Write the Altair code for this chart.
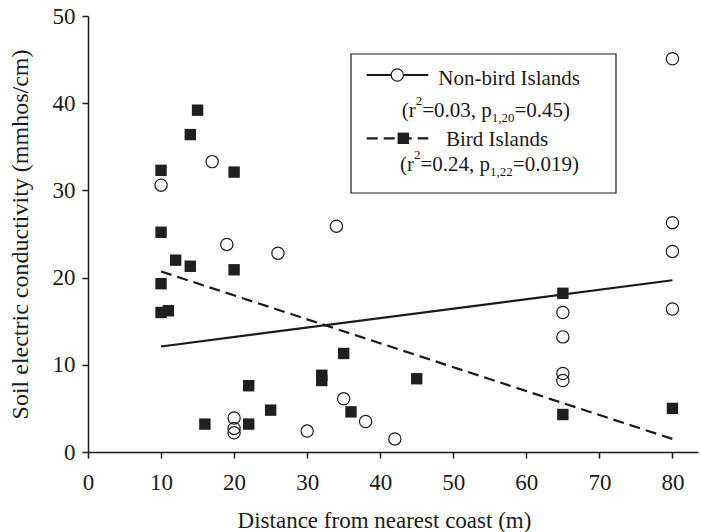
import altair as alt
import pandas as pd

# ---- data ----
nonbird_x = [10, 17, 19, 20, 20, 20, 26, 30, 34, 35, 38, 42, 65, 65, 65, 65, 80, 80, 80, 80]
nonbird_y = [30.6, 33.3, 23.8, 3.9, 2.7, 2.2, 22.8, 2.4, 25.9, 6.1, 3.5, 1.5, 16.0, 13.2, 9.0, 8.2, 45.1, 26.3, 23.0, 16.4]

bird_x = [10, 10, 10, 10, 11, 12, 14, 14, 15, 16, 20, 20, 22, 22, 25, 32, 32, 35, 36, 45, 65, 65, 80]
bird_y = [32.3, 25.2, 19.3, 16.0, 16.2, 22.0, 36.4, 21.3, 39.2, 3.2, 32.1, 20.9, 7.6, 3.2, 4.8, 8.8, 8.2, 11.3, 4.6, 8.4, 18.2, 4.3, 5.0]

fit_x = [10, 80]
nonbird_fit_y = [12.1, 19.7]
bird_fit_y = [20.7, 1.5]

x_ticks = [0, 10, 20, 30, 40, 50, 60, 70, 80]
y_ticks = [0, 10, 20, 30, 40, 50]

FONT = "Liberation Serif"
TXT = "#1a1a1a"
W, H = 610, 436

xs = alt.Scale(domain=[0, 83.5], nice=False, zero=False)
ys = alt.Scale(domain=[0, 50], nice=False)

x_axis = alt.Axis(values=x_ticks, title="Distance from nearest coast (m)", grid=False,
                  domainColor=TXT, domainWidth=1.5, tickColor=TXT, tickWidth=1.5, tickSize=6,
                  labelFont=FONT, labelFontSize=23, labelColor=TXT, labelPadding=31,
                  labelBaseline="alphabetic", labelFlush=False,
                  titleFont=FONT, titleFontSize=23, titleFontWeight="normal", titleColor=TXT,
                  titleX=296, titleY=75, titleBaseline="alphabetic", titleAlign="center")
y_axis = alt.Axis(values=y_ticks, title="Soil electric conductivity (mmhos/cm)", grid=False,
                  domainColor=TXT, domainWidth=1.5, tickColor=TXT, tickWidth=1.5, tickSize=6,
                  labelFont=FONT, labelFontSize=23, labelColor=TXT, labelPadding=7, labelFlush=False,
                  titleFont=FONT, titleFontSize=24, titleFontWeight="normal", titleColor=TXT,
                  titleX=-61, titleY=H / 2, titleAngle=-90, titleBaseline="alphabetic", titleAlign="center")

df_nb = pd.DataFrame({"x": nonbird_x, "y": nonbird_y})
df_b = pd.DataFrame({"x": bird_x, "y": bird_y})
df_fit_nb = pd.DataFrame({"x": fit_x, "y": nonbird_fit_y})
df_fit_b = pd.DataFrame({"x": fit_x, "y": bird_fit_y})

line_nb = alt.Chart(df_fit_nb).mark_line(color=TXT, strokeWidth=2.2).encode(
    x=alt.X("x:Q", scale=xs, axis=x_axis), y=alt.Y("y:Q", scale=ys, axis=y_axis))
line_b = alt.Chart(df_fit_b).mark_line(color=TXT, strokeWidth=2.2, strokeDash=[11, 6]).encode(
    x=alt.X("x:Q", scale=xs), y=alt.Y("y:Q", scale=ys))
pts_nb = alt.Chart(df_nb).mark_point(shape="circle", filled=False, size=150, stroke=TXT,
                                     strokeWidth=1.2, opacity=1).encode(
    x=alt.X("x:Q", scale=xs), y=alt.Y("y:Q", scale=ys))
pts_b = alt.Chart(df_b).mark_square(size=130, color="#1f1f1f", opacity=1).encode(
    x=alt.X("x:Q", scale=xs), y=alt.Y("y:Q", scale=ys))

# ---- legend (pixel positions inside plot area) ----
one = pd.DataFrame({"a": [0]})
LF, SF = 21, 13
box = alt.Chart(one).mark_rect(fill="white", stroke=TXT, strokeWidth=1.2).encode(
    x=alt.value(263), x2=alt.value(528), y=alt.value(38), y2=alt.value(177))
leg_l1 = alt.Chart(one).mark_rule(color=TXT, strokeWidth=2.2).encode(
    x=alt.value(278.7), x2=alt.value(340.3), y=alt.value(59))
leg_c = alt.Chart(one).mark_point(shape="circle", filled=False, size=150, stroke=TXT,
                                  strokeWidth=1.2, fill="white", fillOpacity=1, opacity=1).encode(
    x=alt.value(309.3), y=alt.value(59))
leg_l2 = alt.Chart(one).mark_rule(color=TXT, strokeWidth=2.2, strokeDash=[11, 6]).encode(
    x=alt.value(278.7), x2=alt.value(340.3), y=alt.value(122.3))
leg_s = alt.Chart(one).mark_square(size=130, color="#1f1f1f", opacity=1).encode(
    x=alt.value(315.3), y=alt.value(122.3))


def txt(s, x, y, size):
    return alt.Chart(one).mark_text(text=s, font=FONT, fontSize=size, color=TXT,
                                    align="left", baseline="alphabetic").encode(
        x=alt.value(x), y=alt.value(y))


TW = {"(": .333, ")": .333, "r": .333, "=": .564, ".": .25, ",": .25, " ": .25, "p": .5}


def width(s, size):
    return sum(TW.get(ch, .5) for ch in s) * size


def rich(pieces, x0, y0):
    out = []
    x = x0
    for s, kind in pieces:
        if kind == "n":
            out.append(txt(s, x, y0, LF))
            x += width(s, LF)
        elif kind == "sup":
            out.append(txt(s, x, y0 - 12, SF))
            x += width(s, SF)
        else:
            out.append(txt(s, x, y0 + 5, SF))
            x += width(s, SF)
    return out


legend_layers = [box, leg_l1, leg_c, leg_l2, leg_s,
                 txt("Non-bird Islands", 350.3, 69, LF),
                 txt("Bird Islands", 358, 130, LF)]
legend_layers += rich([("(r", "n"), ("2", "sup"), ("=0.03, p", "n"), ("1,20", "sub"), ("=0.45)", "n")], 313.7, 101.3)
legend_layers += rich([("(r", "n"), ("2", "sup"), ("=0.24, p", "n"), ("1,22", "sub"), ("=0.019)", "n")], 312, 154.7)

chart = alt.layer(line_nb, line_b, pts_nb, pts_b, *legend_layers).properties(
    width=W, height=H,
    padding={"left": 88, "top": 16, "right": 3, "bottom": 80},
    autosize=alt.AutoSizeParams(type="none"),
    background="white",
).configure_view(stroke=None)

chart.save("out.html", embed_options={"renderer": "svg", "actions": False})
